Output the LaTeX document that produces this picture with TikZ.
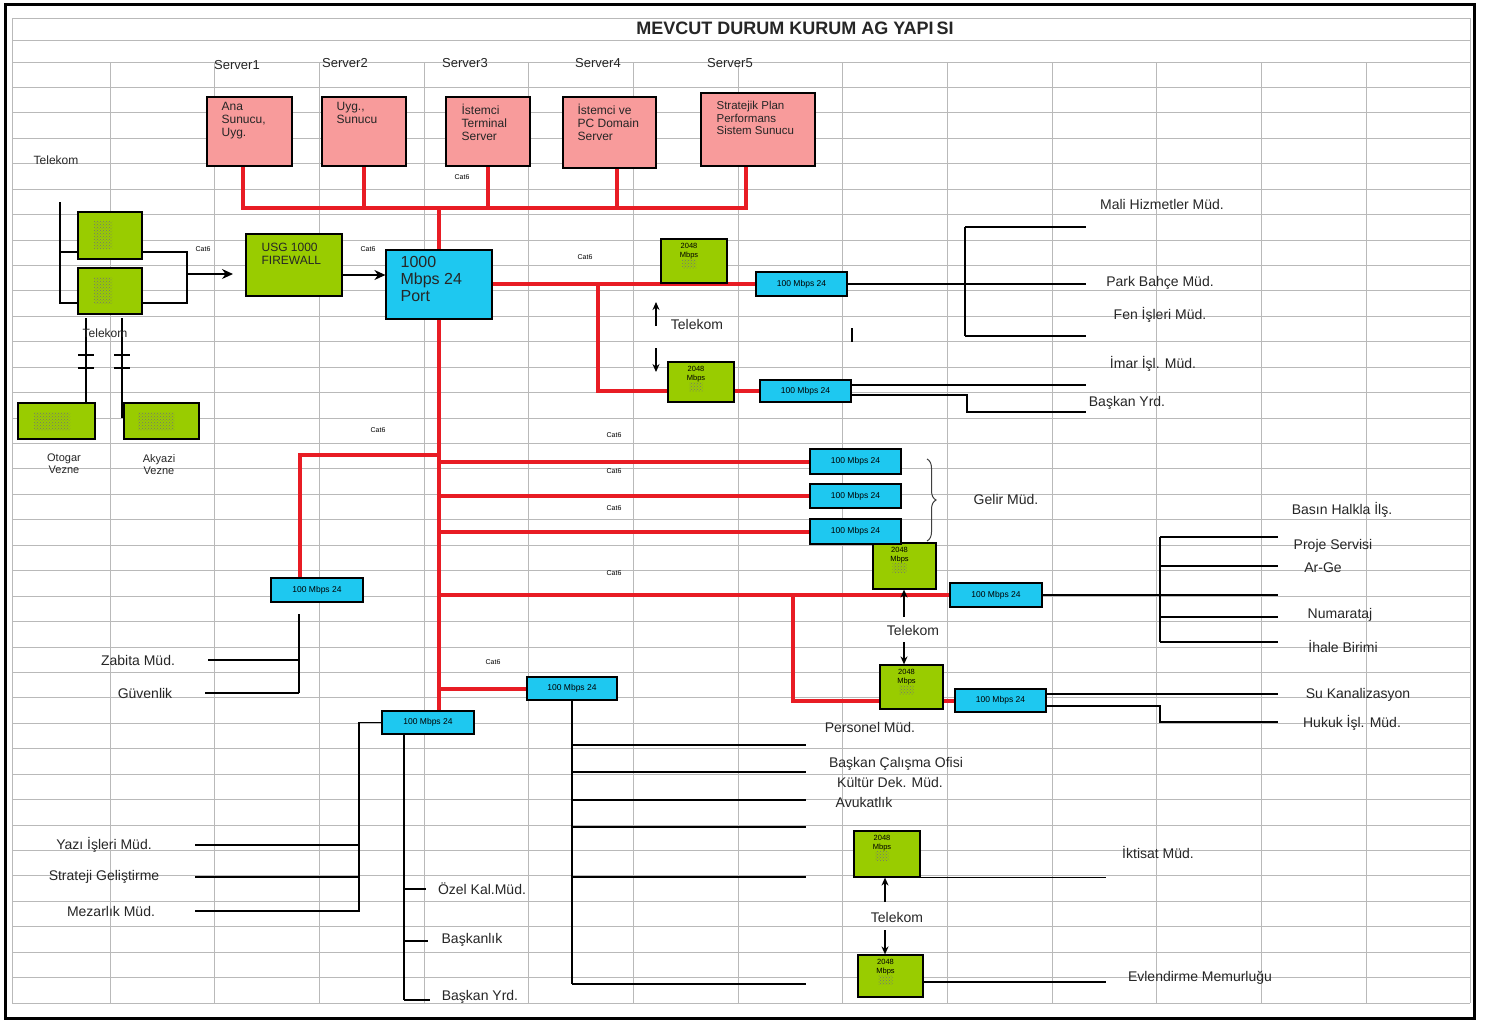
\documentclass[tikz,border=0pt]{standalone}
\usepackage{fontspec}
\setmainfont{Liberation Sans}
\usetikzlibrary{arrows.meta,patterns,decorations.pathreplacing,calc}
\definecolor{salmon}{RGB}{248,155,155}
\definecolor{lime}{RGB}{153,204,0}
\definecolor{skyc}{RGB}{30,200,240}
\definecolor{netred}{RGB}{232,28,36}
\definecolor{gridc}{RGB}{185,185,185}
\pgfdeclarelayer{gridlayer}
\pgfdeclarelayer{linelayer}
\pgfsetlayers{gridlayer,linelayer,main}
\begin{document}
\begin{tikzpicture}[x=1pt,y=-1pt,
  gridl/.style={draw=gridc, line width=0.8pt},
  srv/.style={draw=black, line width=1.2pt, fill=salmon, inner sep=0pt},
  gbox/.style={draw=black, line width=1.2pt, fill=lime, inner sep=0pt},
  cbox/.style={draw=black, line width=1.2pt, fill=skyc, inner sep=0pt},
  swbox/.style={cbox, minimum width=91pt, minimum height=24pt, font=\fontsize{8.5}{9}\selectfont},
  gtext/.style={font=\fontsize{7.5}{8.5}\selectfont, align=center, inner sep=0pt, anchor=north},
  srvtext/.style={font=\fontsize{12}{13}\selectfont, align=left, inner sep=0pt, anchor=north west, text=black!85},
  redl/.style={draw=netred, line width=4pt},
  blk/.style={draw=black, line width=1.3pt},
  lbl/.style={font=\fontsize{14}{16}\selectfont, text=black!85, inner sep=0pt},
  svl/.style={font=\fontsize{13}{15}\selectfont, text=black!85, inner sep=0pt},
  slbl/.style={font=\fontsize{12}{13}\selectfont, text=black!85, inner sep=0pt, align=center},
  cat/.style={font=\fontsize{7}{8}\selectfont, inner sep=0pt},
  arr/.style={draw=black, line width=1.3pt, -{Stealth[length=11pt,width=10pt]}},
  tarr/.style={draw=black, line width=1.5pt, -{Stealth[length=8pt,width=7pt]}},
  patch/.style={fill=white, pattern=crosshatch dots, pattern color=black!55}
]
\useasboundingbox (0,0) rectangle (1488,1021);

% ---------------- boxes ----------------
\node[srv, minimum width=85pt, minimum height=69pt] (s1) at (249.5,131.5) {};
\node[srv, minimum width=84pt, minimum height=69pt] (s2) at (364,131.5) {};
\node[srv, minimum width=84pt, minimum height=69pt] (s3) at (488,131.5) {};
\node[srv, minimum width=93pt, minimum height=71pt] (s4) at (609.5,132.5) {};
\node[srv, minimum width=114pt, minimum height=73pt] (s5) at (758,129.5) {};
\node[srvtext] (s1t) at ([xshift=15pt,yshift=-6pt]s1.north west) {Ana\\Sunucu,\\Uyg.};
\node[srvtext] (s2t) at ([xshift=15pt,yshift=-6pt]s2.north west) {Uyg.,\\Sunucu};
\node[srvtext] (s3t) at ([xshift=16pt,yshift=-7pt]s3.north west) {İstemci\\Terminal\\Server};
\node[srvtext] (s4t) at ([xshift=15pt,yshift=-7pt]s4.north west) {İstemci ve\\PC Domain\\Server};
\node[srvtext, font=\fontsize{11.5}{12.5}\selectfont] (s5t) at ([xshift=16pt,yshift=-9pt]s5.north west) {Stratejik Plan\\Performans\\Sistem Sunucu};

\node[gbox, minimum width=64pt, minimum height=47pt] (R1) at (110,235.5) {};
\node[gbox, minimum width=64pt, minimum height=46pt] (R2) at (110,291) {};
\fill[patch] (94,221) rectangle (112,248);
\fill[patch] (94,277) rectangle (112,303);
\node[gbox, minimum width=77pt, minimum height=36pt] (OB) at (56.5,421) {};
\node[gbox, minimum width=75pt, minimum height=36pt] (AB) at (161.5,421) {};
\fill[patch] (34,412) rectangle (70,430);
\fill[patch] (138,412) rectangle (174,430);

\node[gbox, minimum width=96pt, minimum height=62pt] (FW) at (294,265) {};
\node[srvtext, font=\fontsize{12}{12.5}\selectfont] (FWt) at ([xshift=16pt,yshift=-10pt]FW.north west) {USG 1000\\FIREWALL};
\node[cbox, minimum width=106pt, minimum height=69pt] (core) at (439,284.5) {};
\node[srvtext, font=\fontsize{16}{17}\selectfont] (coret) at ([xshift=15pt,yshift=-7pt]core.north west) {1000\\Mbps 24\\Port};

\node[gbox, minimum width=66pt, minimum height=44pt] (G1) at (694,261) {};
\node[gbox, minimum width=66pt, minimum height=40pt] (G2) at (701,382) {};
\node[gbox, minimum width=63pt, minimum height=46pt] (G3) at (904.5,566) {};
\node[gbox, minimum width=63pt, minimum height=44pt] (G4) at (911.5,687) {};
\node[gbox, minimum width=66pt, minimum height=46pt] (G5) at (887,854) {};
\node[gbox, minimum width=65pt, minimum height=42pt] (G6) at (890.5,976) {};
\foreach \g in {G1,G2,G3,G4,G5,G6}{
  \fill[patch] ([xshift=-12pt,yshift=-21pt]\g.north) rectangle ([xshift=2pt,yshift=-30pt]\g.north);
  \node[gtext] at ([xshift=-5pt,yshift=-5pt]\g.north) {2048\\Mbps};
}

\node[swbox] (swA) at (801.5,284) {100 Mbps 24};
\node[swbox, minimum height=22pt] (swB) at (805.5,391) {100 Mbps 24};
\node[swbox, minimum width=92pt] (swC) at (317,590) {100 Mbps 24};
\node[swbox, minimum height=25pt] (D1) at (855.5,461.5) {100 Mbps 24};
\node[swbox] (D2) at (855.5,496) {100 Mbps 24};
\node[swbox, minimum height=25pt] (D3) at (855.5,531.5) {100 Mbps 24};
\node[swbox, minimum width=92pt] (swE) at (996,595) {100 Mbps 24};
\node[swbox, minimum height=23pt] (swF) at (1000.5,700.5) {100 Mbps 24};
\node[swbox, minimum width=90pt, minimum height=23pt] (swG) at (572,688.5) {100 Mbps 24};
\node[swbox, minimum width=92pt, minimum height=23pt] (swH) at (428,722.5) {100 Mbps 24};

% ---------------- texts ----------------
\node[font=\bfseries\fontsize{18}{20}\selectfont, text=black!85] (title) at (795,28) {MEVCUT DURUM KURUM AG YAPI\,SI};
\node[svl] (sv1) at (237,65) {Server1};
\node[svl] (sv2) at (345,63) {Server2};
\node[svl] (sv3) at (465,63) {Server3};
\node[svl] (sv4) at (598,63) {Server4};
\node[svl] (sv5) at (730,63) {Server5};
\node[slbl] (tk1l) at (56,160) {Telekom};
\node[slbl] (tk2l) at (105,333) {Telekom};
\node[slbl, font=\fontsize{11}{12}\selectfont] (otl) at (64,464) {Otogar\\Vezne};
\node[slbl, font=\fontsize{11}{12}\selectfont] (akl) at (159,465) {Akyazi\\Vezne};

\foreach \p/\n in {{(462,177)}/c1,{(203,249)}/c2,{(368,249)}/c3,{(585,257)}/c4,{(378,430)}/c5,{(614,435)}/c6,{(614,471)}/c7,{(614,508)}/c8,{(614,573)}/c9,{(493,662)}/c10}{
  \node[cat] (\n) at \p {Cat6};
}

\node[lbl] (tkc1) at (697,324) {Telekom};
\node[lbl] (tkc2) at (913,630) {Telekom};
\node[lbl] (tkc3) at (897,917) {Telekom};

\node[lbl] (l1) at (1162,204) {Mali Hizmetler Müd.};
\node[lbl] (l2) at (1160,283) {Park Bahçe Müd.};
\node[lbl] (l3) at (1160,315) {Fen İşleri Müd.};
\node[lbl] (l4) at (1153,364) {İmar İşl. Müd.};
\node[lbl] (l5) at (1127,403) {Başkan Yrd.};
\node[lbl] (l6) at (1006,499) {Gelir Müd.};
\node[lbl] (l7) at (1342,510) {Basın Halkla İlş.};
\node[lbl] (l8) at (1333,546) {Proje Servisi};
\node[lbl] (l9) at (1323,568) {Ar-Ge};
\node[lbl] (l10) at (1340,615) {Numarataj};
\node[lbl] (l11) at (1343,646) {İhale Birimi};
\node[lbl] (l12) at (1358,695) {Su Kanalizasyon};
\node[lbl] (l13) at (1352,723) {Hukuk İşl. Müd.};
\node[lbl] (l14) at (870,727) {Personel Müd.};
\node[lbl] (l15) at (896,764) {Başkan Çalışma Ofisi};
\node[lbl] (l16) at (890,782) {Kültür Dek. Müd.};
\node[lbl] (l17) at (864,802) {Avukatlık};
\node[lbl] (l18) at (1158,852) {İktisat Müd.};
\node[lbl] (l19) at (1200,978) {Evlendirme Memurluğu};
\node[lbl] (l20) at (138,660) {Zabita Müd.};
\node[lbl] (l21) at (145,693) {Güvenlik};
\node[lbl] (l22) at (104,845) {Yazı İşleri Müd.};
\node[lbl] (l23) at (104,877) {Strateji Geliştirme};
\node[lbl] (l24) at (111,911) {Mezarlık Müd.};
\node[lbl] (l25) at (482,889) {Özel Kal.Müd.};
\node[lbl] (l26) at (472,940) {Başkanlık};
\node[lbl] (l27) at (480,997) {Başkan Yrd.};

% ---------------- grid ----------------
\begin{pgfonlayer}{gridlayer}
\fill[white] (0,0) rectangle (1488,1021);
\foreach \k in {0,...,37}{\draw[gridl] (12,{62+25.43*\k}) -- (1470,{62+25.43*\k});}
\foreach \j in {0,...,12}{\draw[gridl] ({110+104.67*\j},62) -- ({110+104.67*\j},1003);}
\draw[gridl] (12,18) rectangle (1470,40);
\draw[gridl] (12,40) -- (12,1003);
\draw[gridl] (1470,40) -- (1470,1003);
\draw[line width=3pt] (5,4) rectangle (1474,1018);
\end{pgfonlayer}

% ---------------- connectors ----------------
\begin{pgfonlayer}{linelayer}
\coordinate (busC) at (439,208);
\draw[redl] ([xshift=-7pt]s1.south) -- ([xshift=-7pt]s1.south |- busC) -- ([xshift=-12pt]s5.south |- busC) -- ([xshift=-12pt]s5.south);
\draw[redl] (s2.south) -- (s2.south |- busC);
\draw[redl] (s3.south) -- (s3.south |- busC);
\draw[redl] ([xshift=7.5pt]s4.south) -- ([xshift=7.5pt]s4.south |- busC);
\draw[redl] (core.north |- busC) -- (core.north);
\draw[redl] (core.south) -- (core.south |- swH.north);
\draw[redl] (swA.west -| core.east) -- (swA.west);
\coordinate (j1) at (598,284);
\draw[redl] (j1) |- (swB.west);
\coordinate (j2) at (300,455);
\draw[redl] (core.south |- j2) -- (j2) -- (j2 |- swC.north);
\draw[redl] (core.south |- D1.west) -- (D1.west);
\draw[redl] (core.south |- D2.west) -- (D2.west);
\draw[redl] (core.south |- D3.west) -- (D3.west);
\draw[redl] (core.south |- swE.west) -- (swE.west);
\coordinate (j3) at (793,595);
\draw[redl] (j3) |- (swF.west);
\draw[redl] (core.south |- swG.west) -- (swG.west);

% left telekom / routers
\coordinate (tk1) at (60,202);
\draw[blk] (tk1) |- (R2.west |- 0,303);
\draw[blk] (tk1 |- 0,252) -- (R1.west |- 0,252);
\coordinate (mj) at (187,274);
\coordinate (fwin) at (233,274);
\draw[blk] (R1.east |- 0,252) -| (mj);
\draw[blk] (R2.east |- 0,303) -| (mj);
\draw[arr] (mj) -- (fwin);
\draw[arr] (FW.east |- 0,275) -- (core.west |- 0,275);
\draw[blk] (86,318) -- (OB.north -| 86,0);
\draw[blk] (122,318) -- (122,418);
\draw[blk] (78,355) -- (94,355); \draw[blk] (78,368) -- (94,368);
\draw[blk] (114,355) -- (130,355); \draw[blk] (114,368) -- (130,368);

% swA fan
\draw[blk, line width=2.6pt] (swA.east) -- (965,284);
\draw[blk] (965,227) -- (965,336);
\foreach \yy in {227,284,336}{\draw[blk] (965,\yy) -- (1086,\yy);}
% swB
\draw[blk] (swB.east |- 0,385) -- (1086,385);
\draw[blk] (swB.east |- 0,395) -| (967,412) -- (1086,412);
\draw[line width=2.5pt] (852,328) -- (852,342);
% swC
\draw[blk] (299,614) -- (299,693);
\draw[blk] (208,660) -- (299,660);
\draw[blk] (205,693) -- (299,693);
% swE fan
\draw[blk] (swE.east) -- (1160,595);
\draw[blk] (1160,537) -- (1160,642);
\foreach \yy in {537,566,595,617,642}{\draw[blk] (1160,\yy) -- (1278,\yy);}
% swF
\draw[blk] (swF.east |- 0,694) -- (1278,694);
\draw[blk] (swF.east |- 0,706) -| (1160,722) -- (1278,722);
% swH
\draw[blk] (swH.west) -| (359,912);
\foreach \yy in {845,877,911}{\draw[blk] (195,\yy) -- (359,\yy);}
\draw[blk] (swH.south -| 404,0) -- (404,1000);
\draw[blk] (404,889) -- (426,889);
\draw[blk] (404,941) -- (428,941);
\draw[blk] (404,1000) -- (430,1000);
% swG
\draw[blk] (swG.south) -- (572,984);
\foreach \yy in {745,772,800,827,877,984}{\draw[blk] (572,\yy) -- (806,\yy);}
% G5 / G6
\draw[blk] (G5.south west) -- (G5.south west -| 1106,0);
\draw[blk] (G6.east |- 0,982) -- (1106,982);
% telekom arrows
\draw[tarr] (656,326) -- (656,302);
\draw[tarr] (656,348) -- (656,372);
\draw[tarr] (904,617) -- (G3.south -| 904,0);
\draw[tarr] (904,642) -- (G4.north -| 904,0);
\draw[tarr] (885,902) -- (G5.south -| 885,0);
\draw[tarr] (885,930) -- (G6.north -| 885,0);
% brace
\draw[black!75, line width=1pt, decorate, decoration={brace, amplitude=9pt}] (927,459) -- (927,541);
\end{pgfonlayer}
\end{tikzpicture}
\end{document}
